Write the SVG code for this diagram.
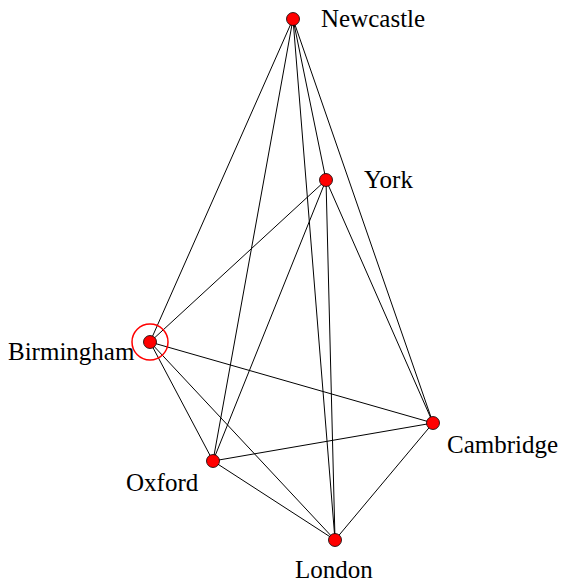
<svg xmlns="http://www.w3.org/2000/svg" width="562" height="583" viewBox="0 0 562 583">
<style>
.e{stroke:#000;stroke-width:1;fill:none}
.n{fill:#f00;stroke:#000;stroke-width:0.8}
.l{font-family:"Liberation Serif",serif;font-size:25px;fill:#000}
</style>
<rect width="562" height="583" fill="#fff"/>
<g id="edges">
<line class="e" x1="293" y1="19" x2="326" y2="180"/>
<line class="e" x1="293" y1="19" x2="150" y2="342"/>
<line class="e" x1="293" y1="19" x2="433" y2="423"/>
<line class="e" x1="293" y1="19" x2="213" y2="461"/>
<line class="e" x1="293" y1="19" x2="335" y2="540"/>
<line class="e" x1="326" y1="180" x2="150" y2="342"/>
<line class="e" x1="326" y1="180" x2="433" y2="423"/>
<line class="e" x1="326" y1="180" x2="213" y2="461"/>
<line class="e" x1="326" y1="180" x2="335" y2="540"/>
<line class="e" x1="150" y1="342" x2="433" y2="423"/>
<line class="e" x1="150" y1="342" x2="213" y2="461"/>
<line class="e" x1="150" y1="342" x2="335" y2="540"/>
<line class="e" x1="433" y1="423" x2="213" y2="461"/>
<line class="e" x1="433" y1="423" x2="335" y2="540"/>
<line class="e" x1="213" y1="461" x2="335" y2="540"/>
</g>
<g id="newcastle"><circle class="n" cx="293" cy="19" r="6.5"/><text class="l" x="321" y="27">Newcastle</text></g>
<g id="york"><circle class="n" cx="326" cy="180" r="6.5"/><text class="l" x="364" y="188">York</text></g>
<g id="birmingham"><circle cx="150" cy="342" r="18" fill="none" stroke="#f00" stroke-width="1.5"/><circle class="n" cx="150" cy="342" r="6.5"/><text class="l" x="8" y="360">Birmingham</text></g>
<g id="cambridge"><circle class="n" cx="433" cy="423" r="6.5"/><text class="l" x="447" y="453">Cambridge</text></g>
<g id="oxford"><circle class="n" cx="213" cy="461" r="6.5"/><text class="l" x="126" y="491">Oxford</text></g>
<g id="london"><circle class="n" cx="335" cy="540" r="6.5"/><text class="l" x="295" y="578">London</text></g>
</svg>
